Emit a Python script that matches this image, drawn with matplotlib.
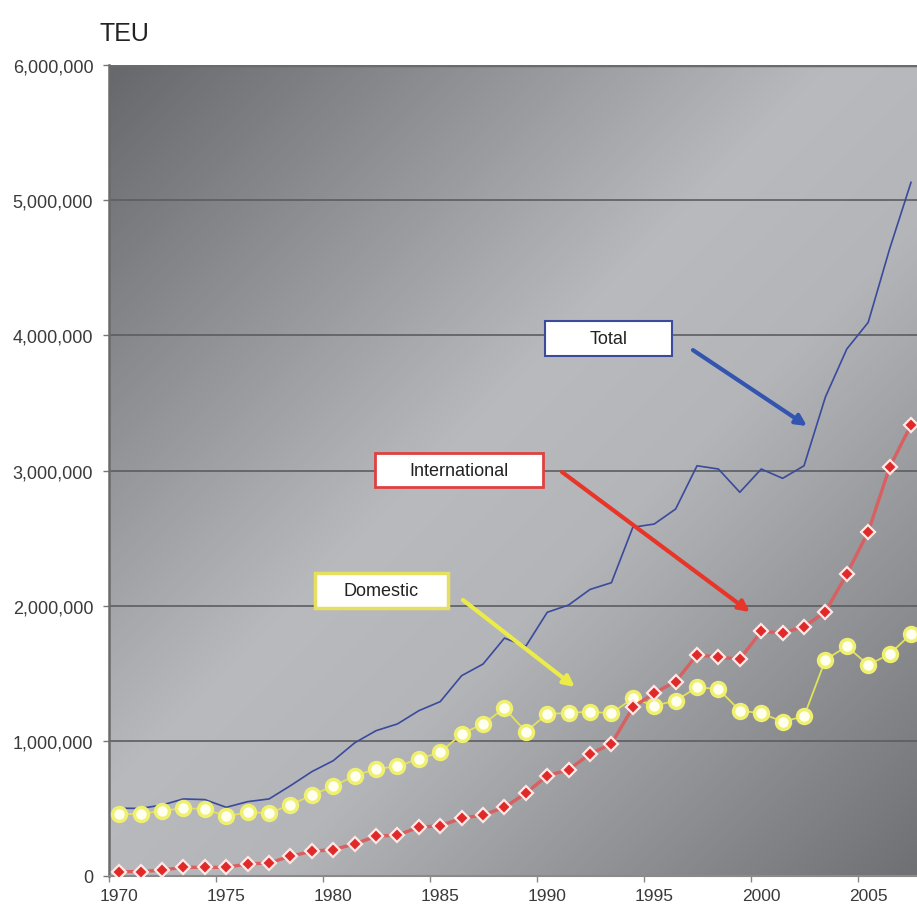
import numpy as np
import matplotlib.pyplot as plt
from matplotlib.colors import LinearSegmentedColormap
from matplotlib.patches import Rectangle
from matplotlib.ticker import FuncFormatter

plt.rcParams['font.family'] = ['Liberation Sans', 'DejaVu Sans']

years = list(range(1970, 2008))

# TEU per year
total = [501000, 500000, 525000, 570000, 565000, 508000, 550000, 570000, 668000, 772000,
         853000, 985000, 1075000, 1125000, 1223000, 1290000, 1482000, 1568000, 1760000, 1700000,
         1951000, 2005000, 2120000, 2170000, 2580000, 2604000, 2715000, 3035000, 3011000, 2839000,
         3011000, 2942000, 3035000, 3544000, 3899000, 4096000, 4639000, 5132000]
international = [32000, 32000, 44000, 64000, 64000, 64000, 89000, 96000, 146000, 183000,
                 195000, 237000, 294000, 303000, 360000, 372000, 427000, 451000, 508000, 612000,
                 742000, 786000, 903000, 977000, 1248000, 1354000, 1438000, 1637000, 1618000, 1605000,
                 1810000, 1798000, 1844000, 1955000, 2234000, 2547000, 3024000, 3337000]
domestic = [459000, 459000, 483000, 501000, 496000, 442000, 471000, 466000, 525000, 599000,
            664000, 742000, 792000, 812000, 866000, 915000, 1051000, 1125000, 1241000, 1068000,
            1199000, 1206000, 1216000, 1203000, 1315000, 1260000, 1297000, 1396000, 1383000, 1223000,
            1204000, 1142000, 1181000, 1600000, 1699000, 1561000, 1642000, 1790000]

year_labels = [1970, 1975, 1980, 1985, 1990, 1995, 2000, 2005]
y_ticks = [0, 1000000, 2000000, 3000000, 4000000, 5000000, 6000000]

fig = plt.figure(figsize=(9.17, 9.12), dpi=100)
ax = fig.add_axes([0.1184, 0.0384, 0.8816, 0.8892])

# diagonal grey gradient background
cmap = LinearSegmentedColormap.from_list('bg', [(0, '#66686c'), (0.45, '#b8babd'),
                                                (0.6, '#b3b5b8'), (1, '#6e7074')])
n = 300
xx, yy = np.meshgrid(np.linspace(0, 1, n), np.linspace(0, 1, n))
grad = (xx + yy) / 2
ax.imshow(grad, cmap=cmap, extent=[0, 1, 0, 1], transform=ax.transAxes,
          aspect='auto', origin='upper', zorder=0)

ax.set_xlim(1969.5, 2007.28)
ax.set_ylim(0, 6000000)

for v in y_ticks[1:]:
    ax.axhline(v, color='#5c5d61', lw=1.2, zorder=1)

ax.plot(years, total, color='#3a4a9c', lw=1.2, zorder=3)
ax.plot(years, domestic, color='#e2e25a', lw=1.3, marker='o', markersize=10,
        markerfacecolor='#fffff0', markeredgecolor='#f0f070', markeredgewidth=2.5, zorder=4)
ax.plot(years, international, color='#d86060', lw=2.4, marker='D', markersize=7.5,
        markerfacecolor='#e02a2a', markeredgecolor='#ffe8e6', markeredgewidth=1.6, zorder=5)

# labelled boxes with arrows
boxes = [
    ('Total', 1989.89, 3847000, 5.93, 259000, '#3a4a9c', 1.5, (1996.81, 3891000), (2002.14, 3329000), '#3355b0'),
    ('International', 1981.95, 2878000, 7.85, 251000, '#e04040', 2.0, (1990.69, 2989000), (1999.47, 1953000), '#e8352a'),
    ('Domestic', 1979.15, 1983000, 6.21, 259000, '#e6e060', 2.5, (1986.06, 2042000), (1991.29, 1398000), '#ecec48'),
]
for label, x0, y0, w, h, ec, elw, start, end, acol in boxes:
    ax.add_patch(Rectangle((x0, y0), w, h, facecolor='white', edgecolor=ec, lw=elw, zorder=6))
    ax.text(x0 + w / 2, y0 + h / 2, label, ha='center', va='center', fontsize=13,
            color='#222222', zorder=7)
    ax.annotate('', xy=end, xytext=start, zorder=7,
                arrowprops=dict(arrowstyle='-|>', color=acol, lw=3, mutation_scale=16,
                                shrinkA=0, shrinkB=0))

ax.yaxis.set_major_formatter(FuncFormatter(lambda v, p: '{:,.0f}'.format(v)))
ax.set_yticks(y_ticks)
ax.set_xticks(year_labels)
ax.set_xticks([1969.5 + 5 * k for k in range(8)], minor=True)
ax.tick_params(axis='y', length=4, width=1, color='#777777', pad=7, labelsize=13, labelcolor='#3a3a3a')
ax.tick_params(axis='x', which='major', length=0, pad=9, labelsize=12.5, labelcolor='#3a3a3a')
ax.tick_params(axis='x', which='minor', length=4, width=1, color='#888888')

for s in ['top', 'right']:
    ax.spines[s].set_visible(False)
ax.spines['left'].set_color('#6a6a6a')
ax.spines['left'].set_linewidth(1.8)
ax.spines['bottom'].set_color('#8a8a8a')
ax.spines['bottom'].set_linewidth(1.5)
ax.axhline(6000000, color='#6a6b6e', lw=2.5, zorder=2)

fig.text(0.108, 0.963, 'TEU', fontsize=18, color='#222222', ha='left', va='center')

fig.savefig('out.png', dpi=100)
